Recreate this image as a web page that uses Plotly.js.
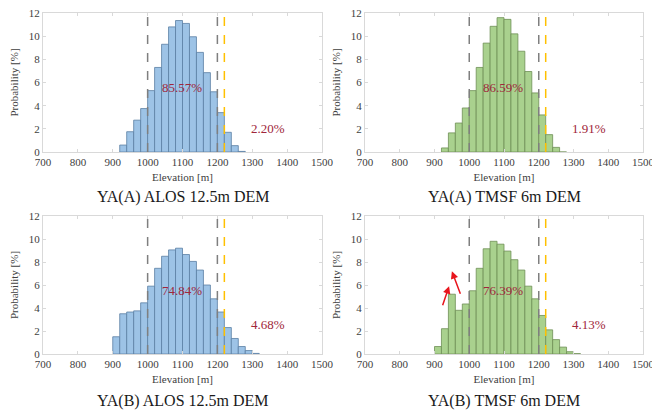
<!DOCTYPE html>
<html><head><meta charset="utf-8">
<script src="https://cdn.plot.ly/plotly-3.0.1.min.js"></script>
<style>html,body{margin:0;padding:0;background:#fff;}#c{width:652px;height:411px;}</style>
</head><body><div id="c"></div>
<script>
// bin starts (20 m bins)
const binsA = [920,940,960,980,1000,1020,1040,1060,1080,1100,1120,1140,1160,1180,1200,1220,1240,1260];
const alosA = [0.6,1.75,2.75,3.75,5.3,7.3,9.3,10.8,11.35,11.1,9.95,8.6,6.85,5.2,3.4,1.7,0.55,0.05];
const tmsfA = [0.35,1.65,2.5,3.8,5.3,7.3,9.4,10.85,11.6,11.45,10.2,8.7,6.95,5.1,3.2,1.5,0.4,0];
const binsB = [900,920,940,960,980,1000,1020,1040,1060,1080,1100,1120,1140,1160,1180,1200,1220,1240,1260,1280,1300];
const alosB = [1.5,3.5,3.65,3.75,4.45,5.9,7.45,8.5,9.05,9.2,8.65,8.05,7.3,6.0,4.8,3.65,2.3,1.35,0.65,0.3,0.05];
const tmsfB = [0.65,2.2,5.2,3.8,4.35,5.5,7.45,9.15,9.8,9.55,8.95,8.2,7.3,5.9,4.8,3.35,2.1,1.25,0.6,0.2,0.03];
const xTicks = [700,800,900,1000,1100,1200,1300,1400,1500];
const yTicks = [0,2,4,6,8,10,12];
const titles = ["YA(A) ALOS 12.5m DEM","YA(A) TMSF 6m DEM","YA(B) ALOS 12.5m DEM","YA(B) TMSF 6m DEM"];
const insidePct = ["85.57%","86.59%","74.84%","76.39%"];
const outsidePct = ["2.20%","1.91%","4.68%","4.13%"];
const grayLines = [1000,1200];
const yellowLine = 1220;

const blue = '#9DC3E6', blueEdge = '#5B7FA3';
const green = '#A9D18E', greenEdge = '#6E8F55';
const serif = "'Liberation Serif', 'Times New Roman', serif";

const panels = [
  {bins: binsA, vals: alosA, col: blue, edge: blueEdge},
  {bins: binsA, vals: tmsfA, col: green, edge: greenEdge},
  {bins: binsB, vals: alosB, col: blue, edge: blueEdge},
  {bins: binsB, vals: tmsfB, col: green, edge: greenEdge}
];
const W = 652, H = 411;
const xd = [[43/W, 322/W],[365/W, 643/W]];
const yd = [[1-152/H, 1-13/H],[1-354/H, 1-216/H]];

const data = [];
const layout = {
  width: W, height: H, margin: {l:0,r:0,t:0,b:0},
  paper_bgcolor: '#fff', plot_bgcolor: '#fff',
  showlegend: false, bargap: 0,
  font: {family: serif, color: '#404040', size: 11},
  shapes: [], annotations: []
};
panels.forEach((p, i) => {
  const n = i + 1;
  const xa = 'x' + (n === 1 ? '' : n), ya = 'y' + (n === 1 ? '' : n);
  data.push({type: 'bar', x: p.bins, y: p.vals, width: 20, offset: 0,
    xaxis: xa, yaxis: ya,
    marker: {color: p.col, line: {color: p.edge, width: 0.8}}, hoverinfo: 'skip'});
  const col = i % 2, row = Math.floor(i / 2);
  const axCommon = {showgrid: false, zeroline: false, showline: true, linecolor: '#d9d9d9', linewidth: 1,
    mirror: 'ticks', ticks: 'inside', ticklen: 3, tickcolor: '#d9d9d9', ticklabeloverflow: 'allow',
    tickfont: {family: serif, size: 11, color: '#404040'}};
  layout['xaxis' + (n === 1 ? '' : n)] = Object.assign({}, axCommon, {
    domain: xd[col], anchor: ya, range: [700, 1500], tickmode: 'array', tickvals: xTicks, ticktext: xTicks.map(String),
    title: {text: 'Elevation [m]', font: {family: serif, size: 11, color: '#404040'}, standoff: 6}
  });
  layout['yaxis' + (n === 1 ? '' : n)] = Object.assign({}, axCommon, {
    domain: yd[row], anchor: xa, range: [0, 12], tickmode: 'array', tickvals: yTicks, ticktext: yTicks.map(String),
    title: {text: 'Probability [%]', font: {family: serif, size: 11, color: '#404040'}, standoff: 7}
  });
  grayLines.forEach(v => layout.shapes.push({type: 'line', xref: xa, yref: ya + ' domain', x0: v, x1: v, y0: 0, y1: 1,
    line: {color: '#7F7F7F', width: 1.5, dash: 'dash'}}));
  layout.shapes.push({type: 'line', xref: xa, yref: ya + ' domain', x0: yellowLine, x1: yellowLine, y0: 0, y1: 1,
    line: {color: '#FFC000', width: 1.5, dash: 'dash'}});
  layout.annotations.push({xref: xa, yref: ya, x: 1098, y: row === 0 ? 5.6 : 5.55, text: insidePct[i], showarrow: false,
    font: {family: serif, size: 13, color: '#A0263A'}});
  layout.annotations.push({xref: xa, yref: ya, x: 1345, y: row === 0 ? 2.0 : 2.6, text: outsidePct[i], showarrow: false,
    font: {family: serif, size: 13, color: '#A0263A'}});
  layout.annotations.push({xref: 'paper', yref: 'paper', x: (xd[col][0] + xd[col][1]) / 2, y: row === 0 ? 1 - 197/H : 1 - 401/H,
    text: titles[i], showarrow: false, xanchor: 'center', yanchor: 'middle',
    font: {family: serif, size: 16, color: '#1a1a1a'}});
});
// red arrows in YA(B) TMSF panel
layout.annotations.push({xref: 'x4', yref: 'y4', axref: 'x4', ayref: 'y4', x: 942, y: 5.9, ax: 922, ay: 4.1,
  text: '', showarrow: true, arrowhead: 2, arrowsize: 1, arrowwidth: 1.5, arrowcolor: '#E8141C'});
layout.annotations.push({xref: 'x4', yref: 'y4', axref: 'x4', ayref: 'y4', x: 950, y: 7.2, ax: 976, ay: 5.1,
  text: '', showarrow: true, arrowhead: 2, arrowsize: 1, arrowwidth: 1.5, arrowcolor: '#E8141C'});
Plotly.newPlot('c', data, layout, {staticPlot: true});
</script></body></html>
